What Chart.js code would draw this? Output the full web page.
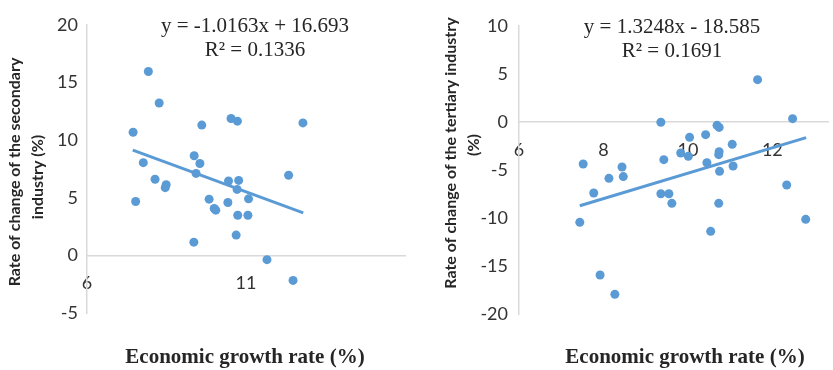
<!DOCTYPE html>
<html>
<head>
<meta charset="utf-8">
<script src="https://cdn.jsdelivr.net/npm/chart.js@4.4.1/dist/chart.umd.min.js"></script>
<style>
  html, body { margin: 0; padding: 0; background: #fff; overflow: hidden; }
  #wrap { position: relative; width: 833px; height: 370px; }
  canvas { position: absolute; top: 0; }
  #secChart { left: 0; }
  #terChart { left: 420px; }
</style>
</head>
<body>
<div id="wrap">
  <canvas id="secChart" width="420" height="370"></canvas>
  <canvas id="terChart" width="413" height="370"></canvas>
</div>
<script>
// Economic growth rate (%) vs rate of change of the secondary industry (%)
const secGrowth = [7.93, 8.27, 7.45, 9.61, 10.53, 10.73, 12.79, 9.37, 9.55, 7.77,
  9.43, 8.14, 8.49, 8.46, 10.45, 10.77, 10.72, 7.53, 9.84, 10.0,
  10.05, 10.43, 11.08, 10.74, 11.06, 10.69, 9.36, 12.34, 11.66, 12.48];
const secChange = [15.96, 13.23, 10.69, 11.31, 11.88, 11.65, 11.5, 8.65, 7.98, 8.05,
  7.12, 6.61, 6.13, 5.88, 6.46, 6.51, 5.73, 4.68, 4.88, 4.07,
  3.93, 4.59, 4.91, 3.49, 3.49, 1.76, 1.15, 6.96, -0.37, -2.17];

// Economic growth rate (%) vs rate of change of the tertiary industry (%)
const terGrowth = [11.65, 9.36, 12.48, 10.69, 10.74, 10.04, 10.42, 11.05, 10.74, 10.73,
  9.83, 10.01, 9.43, 10.45, 7.52, 8.44, 11.07, 10.75, 8.13, 8.47,
  12.34, 7.77, 9.36, 9.55, 9.62, 10.73, 7.44, 12.79, 10.54, 7.92, 8.27];
const terChange = [4.41, -0.03, 0.35, -0.35, -0.56, -1.6, -1.32, -2.33, -3.1, -3.4,
  -3.23, -3.58, -3.92, -4.24, -4.38, -4.69, -4.58, -5.14, -5.87, -5.69,
  -6.56, -7.4, -7.47, -7.47, -8.47, -8.47, -10.45, -10.14, -11.39, -15.94, -17.95];

// tick labels on the growth-rate axes
const secXTicks = [6, 11];
const terXTicks = [6, 8, 10, 12];

// trendlines (slope, intercept) and their x span
const secTrend = [-1.0163, 16.693];
const terTrend = [1.3248, -18.585];
const trendSpan = [7.44, 12.8];

const blue = '#5B9BD5';
const tickFont = { family: 'Lato', size: 18 };

function toPoints(xs, ys) {
  return xs.map((x, i) => ({ x: x, y: ys[i] }));
}

function trendPoints(t) {
  return trendSpan.map(x => ({ x: x, y: t[0] * x + t[1] }));
}

// plugin to write the equation and the axis titles
const textPlugin = {
  id: 'texts',
  afterDraw(chart, args, opts) {
    const ctx = chart.ctx;
    opts.items.forEach(it => {
      ctx.save();
      ctx.font = it.font;
      ctx.fillStyle = it.color || '#262626';
      ctx.textAlign = 'center';
      ctx.textBaseline = it.rotate ? 'middle' : 'alphabetic';
      ctx.translate(it.x, it.y);
      if (it.rotate) ctx.rotate(-Math.PI / 2);
      ctx.fillText(it.text, 0, 0);
      ctx.restore();
    });
  }
};

function makeChart(id, cfg) {
  return new Chart(document.getElementById(id), {
    type: 'scatter',
    data: {
      datasets: [{
        data: toPoints(cfg.xs, cfg.ys),
        backgroundColor: blue,
        borderWidth: 0,
        pointRadius: 4.5,
        pointHoverRadius: 4.5
      }, {
        type: 'line',
        data: trendPoints(cfg.trend),
        borderColor: blue,
        borderWidth: 3,
        pointRadius: 0,
        fill: false
      }]
    },
    options: {
      responsive: false,
      animation: false,
      devicePixelRatio: 1,
      layout: { padding: cfg.padding },
      plugins: {
        legend: { display: false },
        tooltip: { enabled: false },
        texts: { items: cfg.texts }
      },
      scales: {
        x: {
          type: 'linear',
          position: { y: 0 },
          min: cfg.xMin,
          max: cfg.xMax,
          grid: { display: false, drawTicks: false },
          border: { color: '#d9d9d9', width: 1.5 },
          afterBuildTicks: axis => { axis.ticks = cfg.xTicks.map(v => ({ value: v })); },
          ticks: {
            autoSkip: false,
            font: tickFont,
            color: '#333',
            padding: 17,
            maxRotation: 0
          }
        },
        y: {
          min: cfg.yMin,
          max: cfg.yMax,
          grid: { display: false, drawTicks: false },
          border: { color: '#d9d9d9', width: 1.5 },
          ticks: { stepSize: 5, font: tickFont, color: '#333', padding: cfg.yPad },
          afterFit: s => { s.width = cfg.yWidth; }
        }
      }
    },
    plugins: [textPlugin]
  });
}

const eqFont = '21px "Liberation Serif", "Times New Roman", serif';
const xTitleFont = 'bold 21px "Liberation Serif", "Times New Roman", serif';
const yTitleFont = 'bold 16px Lato, sans-serif';

makeChart('secChart', {
  xs: secGrowth, ys: secChange, trend: secTrend,
  xMin: 6, xMax: 16, xTicks: secXTicks,
  yMin: -5, yMax: 20, yWidth: 87, yPad: 9,
  padding: { top: 25, bottom: 57, left: 0, right: 15 },
  texts: [
    { text: 'y = -1.0163x + 16.693', x: 255, y: 32, font: eqFont },
    { text: 'R² = 0.1336', x: 255, y: 56, font: eqFont },
    { text: 'Economic growth rate (%)', x: 245, y: 363, font: xTitleFont },
    { text: 'Rate of change of the secondary', x: 15, y: 172, font: yTitleFont, rotate: true },
    { text: 'industry (%)', x: 38, y: 177, font: yTitleFont, rotate: true }
  ]
});

makeChart('terChart', {
  xs: terGrowth, ys: terChange, trend: terTrend,
  xMin: 6, xMax: 13.33, xTicks: terXTicks,
  yMin: -20, yMax: 10, yWidth: 99, yPad: 11,
  padding: { top: 26, bottom: 56, left: 0, right: 0 },
  texts: [
    { text: 'y = 1.3248x - 18.585', x: 252, y: 33, font: eqFont },
    { text: 'R² = 0.1691', x: 252, y: 57, font: eqFont },
    { text: 'Economic growth rate (%)', x: 265, y: 363, font: xTitleFont },
    { text: 'Rate of change of the tertiary industry', x: 31, y: 153, font: yTitleFont, rotate: true },
    { text: '(%)', x: 54, y: 145, font: yTitleFont, rotate: true }
  ]
});
</script>
</body>
</html>
